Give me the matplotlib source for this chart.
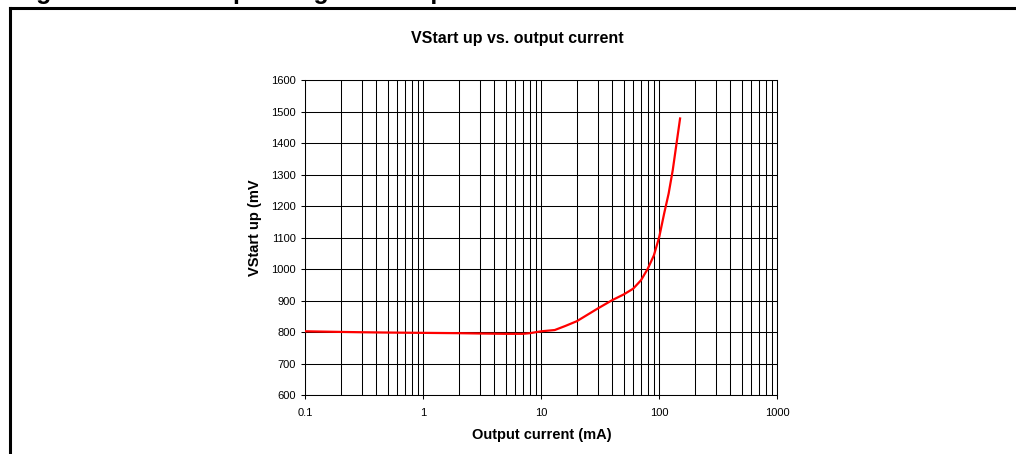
import matplotlib
matplotlib.use("Agg")
import matplotlib.pyplot as plt
from matplotlib.ticker import LogLocator, FixedLocator, NullFormatter, FuncFormatter
from matplotlib.lines import Line2D

plt.rcParams['font.family'] = ['Liberation Sans', 'DejaVu Sans']

# Data
current_mA = [0.1, 0.2, 0.3, 0.5, 1, 2, 3, 5, 7, 8, 10, 13, 16, 20, 30, 40, 50,
              60, 70, 80, 90, 100, 110, 120, 130, 140, 150]
vstart_mV = [803, 801, 800, 799, 798, 797, 796, 795, 795, 797, 803, 807, 820,
             835, 875, 902, 920, 938, 965, 1002, 1044, 1103, 1177, 1240, 1314,
             1399, 1478]
x_ticks = [0.1, 1, 10, 100, 1000]
x_tick_labels = ["0.1", "1", "10", "100", "1000"]
y_ticks = [600, 700, 800, 900, 1000, 1100, 1200, 1300, 1400, 1500, 1600]

title = "VStart up vs. output current"
xlabel = "Output current (mA)"
ylabel = "VStart up (mV"
caption_num = "Figure 9."
caption_txt = "Start up voltage vs. output current"

W, H = 1016, 454
fig = plt.figure(figsize=(W / 100, H / 100), dpi=100)

# outer frame (top and left lines)
fig.add_artist(Line2D([10 / W, 10 / W], [0, 1 - 8 / H], color="black", lw=2.2,
                      transform=fig.transFigure))
fig.add_artist(Line2D([10 / W, 1], [1 - 8 / H, 1 - 8 / H], color="black", lw=2.2,
                      transform=fig.transFigure))

# caption above the frame, mostly cropped by the image edge (as in the reference)
fig.text(14 / W, 1 + 0.5 / H, caption_num, fontsize=18, fontweight="bold",
         ha="left", va="baseline")
fig.text(154 / W, 1 + 0.5 / H, caption_txt, fontsize=18, fontweight="bold",
         ha="left", va="baseline")

ax = fig.add_axes([305.3 / W, 1 - 395.3 / H, (777.3 - 305.3) / W, (395.3 - 80) / H])
ax.set_xscale("log")
ax.set_xlim(0.1, 1000)
ax.set_ylim(600, 1600)

ax.xaxis.set_major_locator(FixedLocator(x_ticks))
ax.xaxis.set_major_formatter(FuncFormatter(
    lambda v, p: x_tick_labels[x_ticks.index(v)] if v in x_ticks else ""))
ax.xaxis.set_minor_locator(LogLocator(base=10, subs=range(2, 10)))
ax.xaxis.set_minor_formatter(NullFormatter())
ax.yaxis.set_major_locator(FixedLocator(y_ticks))

ax.grid(True, which="major", color="black", lw=0.75)
ax.grid(True, which="minor", axis="x", color="black", lw=0.75)
ax.set_axisbelow(True)

for s in ax.spines.values():
    s.set_linewidth(0.75)
    s.set_color("black")

ax.tick_params(axis="both", which="major", labelsize=8, length=3, width=0.75,
               direction="out", colors="black")
ax.tick_params(axis="x", which="major", pad=6)
ax.tick_params(axis="y", which="major", pad=4)
ax.tick_params(axis="x", which="minor", length=0)

ax.plot(current_mA, vstart_mV, color="red", lw=1.6, zorder=3)

fig.text(517 / W, 1 - 39 / H, title, fontsize=11.5, fontweight="bold",
         ha="center", va="center")
fig.text(541.7 / W, 1 - 435 / H, xlabel, fontsize=10.5, fontweight="bold",
         ha="center", va="center")
fig.text(255 / W, 1 - 227.5 / H, ylabel, fontsize=10.5, fontweight="bold",
         ha="center", va="center", rotation=90)

fig.savefig("out.png", dpi=100)
